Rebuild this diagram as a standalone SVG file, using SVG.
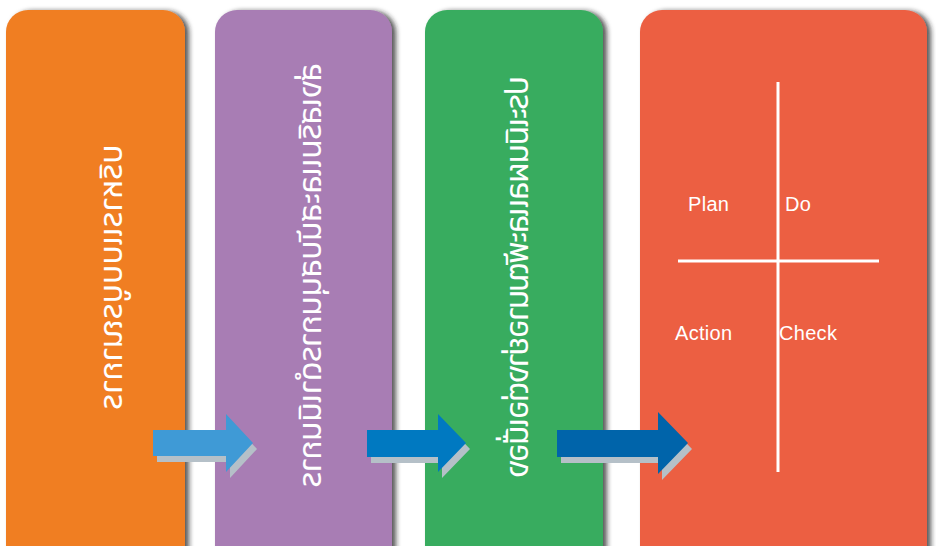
<svg xmlns="http://www.w3.org/2000/svg" width="936" height="546" viewBox="0 0 936 546">
<defs>
<filter id="sh" x="-10%" y="-10%" width="130%" height="130%">
<feDropShadow dx="4" dy="1" stdDeviation="2.5" flood-color="#222" flood-opacity="0.75"/>
</filter>
<style>
.th{font-family:"Noto Sans Thai","Noto Sans","DejaVu Sans",sans-serif;font-size:32px;fill:#fff;text-anchor:middle;dominant-baseline:central}
.en{font-family:"Liberation Sans","Noto Sans",sans-serif;font-size:20px;fill:#fff;letter-spacing:0.3px}
.sd{fill:#b5c0c8}
</style>
</defs>
<rect width="936" height="546" fill="#fff"/>
<g id="step1">
<rect x="6" y="10" width="179" height="560" rx="22" fill="#f07e24" filter="url(#sh)"/>
<text class="th" transform="matrix(0 1 1 0 112 277)" textLength="265" lengthAdjust="spacing">บริหารแบบบูรณาการ</text>
</g>
<g id="step2">
<rect x="215" y="10" width="177" height="560" rx="22" fill="#a87db4" filter="url(#sh)"/>
<text class="th" transform="matrix(0 1 1 0 311 275)" textLength="424" lengthAdjust="spacing">ส่งเสริมและสนับสนุนการดำเนินการ</text>
</g>
<g id="step3">
<rect x="425" y="10" width="178" height="560" rx="22" fill="#39ac5f" filter="url(#sh)"/>
<text class="th" transform="matrix(0 1 1 0 518 277)" textLength="402" lengthAdjust="spacing">ประเมินผลและพัฒนาอย่างต่อเนื่อง</text>
</g>
<g id="pdca">
<rect x="640" y="10" width="287" height="560" rx="22" fill="#ec5f42" filter="url(#sh)"/>
<line x1="778" y1="82" x2="778" y2="472" stroke="#fff" stroke-width="3"/>
<line x1="678" y1="261" x2="879" y2="261" stroke="#fff" stroke-width="3"/>
<text class="en" x="688" y="211">Plan</text>
<text class="en" x="785" y="211">Do</text>
<text class="en" x="675" y="340">Action</text>
<text class="en" x="779" y="340">Check</text>
</g>
<g id="connectors">
<polygon class="sd" points="157,436 230,436 230,420 257,449 230,478 230,462 157,462"/>
<polygon fill="#3f9ad6" points="153,430 226,430 226,414 253,443 226,472 226,456 153,456"/>
<polygon class="sd" points="371,436 442,436 442,420 470,449 442,478 442,463 371,463"/>
<polygon fill="#0079c1" points="367,430 438,430 438,414 466,443 438,472 438,457 367,457"/>
<polygon class="sd" points="561,436 662,436 662,418 692,449 662,480 662,463 561,463"/>
<polygon fill="#0064aa" points="557,430 658,430 658,412 688,443 658,474 658,457 557,457"/>
</g>
</svg>
